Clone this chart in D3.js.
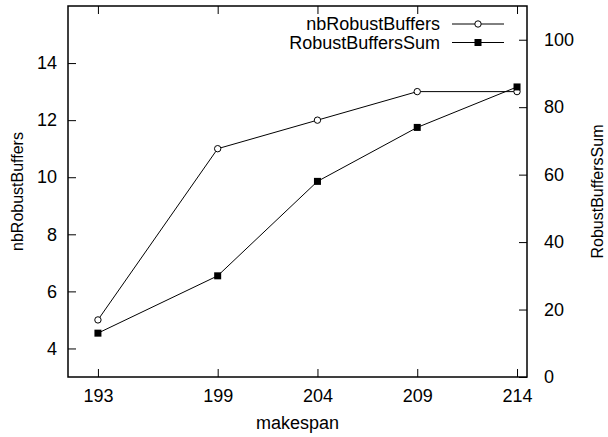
<!DOCTYPE html>
<html>
<head>
<meta charset="utf-8">
<script src="https://cdn.jsdelivr.net/npm/d3@7"></script>
<style>
  body { margin: 0; background: #fff; }
  svg { display: block; }
  text { font-family: "Liberation Sans", Arial, sans-serif; font-size: 18px; fill: #000; }
</style>
</head>
<body>
<div id="chart"></div>
<script>
// data
const makespan = [193, 199, 204, 209, 214];
const nbRobustBuffers = [5, 11, 12, 13, 13];
const robustBuffersSum = [13, 30, 58, 74, 86];

const xTicks = [193, 199, 204, 209, 214];
const yTicks = [4, 6, 8, 10, 12, 14];
const y2Ticks = [0, 20, 40, 60, 80, 100];

const W = 608, H = 437;
const margin = { top: 6, right: 81, bottom: 60, left: 68 },
    width = W - margin.left - margin.right,
    height = H - margin.top - margin.bottom;

const svg = d3.select('#chart')
    .append('svg')
    .attr('width', W)
    .attr('height', H);

const g = svg.append('g')
    .attr('transform', `translate(${margin.left},${margin.top})`);

// scales
const x = d3.scaleLinear().domain([191.5, 214.5]).range([0, width]);
const y = d3.scaleLinear().domain([3, 16]).range([height, 0]);
const y2 = d3.scaleLinear().domain([0, 110]).range([height, 0]);

// axes, ticks pointing inward like gnuplot
const tick = 8;
function styleAxis(sel) {
    sel.select('.domain').remove();
    sel.selectAll('line').attr('stroke', '#000').attr('stroke-width', 1);
    sel.selectAll('text').style('font-size', '18px');
}

g.append('g')
    .attr('transform', `translate(0,${height})`)
    .call(d3.axisBottom(x).tickValues(xTicks).tickFormat(d3.format('d'))
        .tickSizeInner(-tick).tickSizeOuter(0).tickPadding(12))
    .call(styleAxis);

// mirrored x ticks on top
g.append('g')
    .call(d3.axisTop(x).tickValues(xTicks).tickFormat('')
        .tickSizeInner(-tick).tickSizeOuter(0))
    .call(styleAxis);

g.append('g')
    .call(d3.axisLeft(y).tickValues(yTicks)
        .tickSizeInner(-tick).tickSizeOuter(0).tickPadding(11))
    .call(styleAxis);

g.append('g')
    .attr('transform', `translate(${width},0)`)
    .call(d3.axisRight(y2).tickValues(y2Ticks)
        .tickSizeInner(-tick).tickSizeOuter(0).tickPadding(17))
    .call(styleAxis);

// frame
g.append('rect')
    .attr('width', width)
    .attr('height', height)
    .attr('fill', 'none')
    .attr('stroke', '#000')
    .attr('stroke-width', 1.5);

// axis titles
svg.append('text')
    .attr('x', margin.left + width / 2)
    .attr('y', 429)
    .attr('text-anchor', 'middle')
    .text('makespan');

svg.append('text')
    .attr('transform', `translate(23,${margin.top + height / 2}) rotate(-90)`)
    .attr('text-anchor', 'middle')
    .style('font-size', '16px')
    .text('nbRobustBuffers');

svg.append('text')
    .attr('transform', `translate(603,${margin.top + height / 2}) rotate(-90)`)
    .attr('text-anchor', 'middle')
    .style('font-size', '16px')
    .text('RobustBuffersSum');

// series
const nbPts = makespan.map((d, i) => [x(d), y(nbRobustBuffers[i])]);
const sumPts = makespan.map((d, i) => [x(d), y2(robustBuffersSum[i])]);
const line = d3.line();

g.append('path')
    .attr('d', line(nbPts))
    .attr('fill', 'none')
    .attr('stroke', '#000')
    .attr('stroke-width', 1);

g.append('path')
    .attr('d', line(sumPts))
    .attr('fill', 'none')
    .attr('stroke', '#000')
    .attr('stroke-width', 1);

g.selectAll('.pt-nb')
    .data(nbPts)
    .join('circle')
    .attr('class', 'pt-nb')
    .attr('cx', d => d[0])
    .attr('cy', d => d[1])
    .attr('r', 3.2)
    .attr('fill', '#fff')
    .attr('stroke', '#000')
    .attr('stroke-width', 1);

g.selectAll('.pt-sum')
    .data(sumPts)
    .join('rect')
    .attr('class', 'pt-sum')
    .attr('x', d => d[0] - 3.5)
    .attr('y', d => d[1] - 3.5)
    .attr('width', 7)
    .attr('height', 7)
    .attr('fill', '#000');

// legend
const legend = [
    { name: 'nbRobustBuffers', marker: 'circle' },
    { name: 'RobustBuffersSum', marker: 'square' }
];
const lg = svg.append('g');
legend.forEach((d, i) => {
    const ly = 24 + i * 18.5;
    lg.append('text')
        .attr('x', 440)
        .attr('y', ly)
        .attr('dy', '0.35em')
        .attr('text-anchor', 'end')
        .text(d.name);
    lg.append('line')
        .attr('x1', 452).attr('x2', 504)
        .attr('y1', ly).attr('y2', ly)
        .attr('stroke', '#000');
    if (d.marker === 'circle') {
        lg.append('circle')
            .attr('cx', 478).attr('cy', ly).attr('r', 3.2)
            .attr('fill', '#fff').attr('stroke', '#000');
    } else {
        lg.append('rect')
            .attr('x', 474.5).attr('y', ly - 3.5)
            .attr('width', 7).attr('height', 7)
            .attr('fill', '#000');
    }
});
</script>
</body>
</html>
